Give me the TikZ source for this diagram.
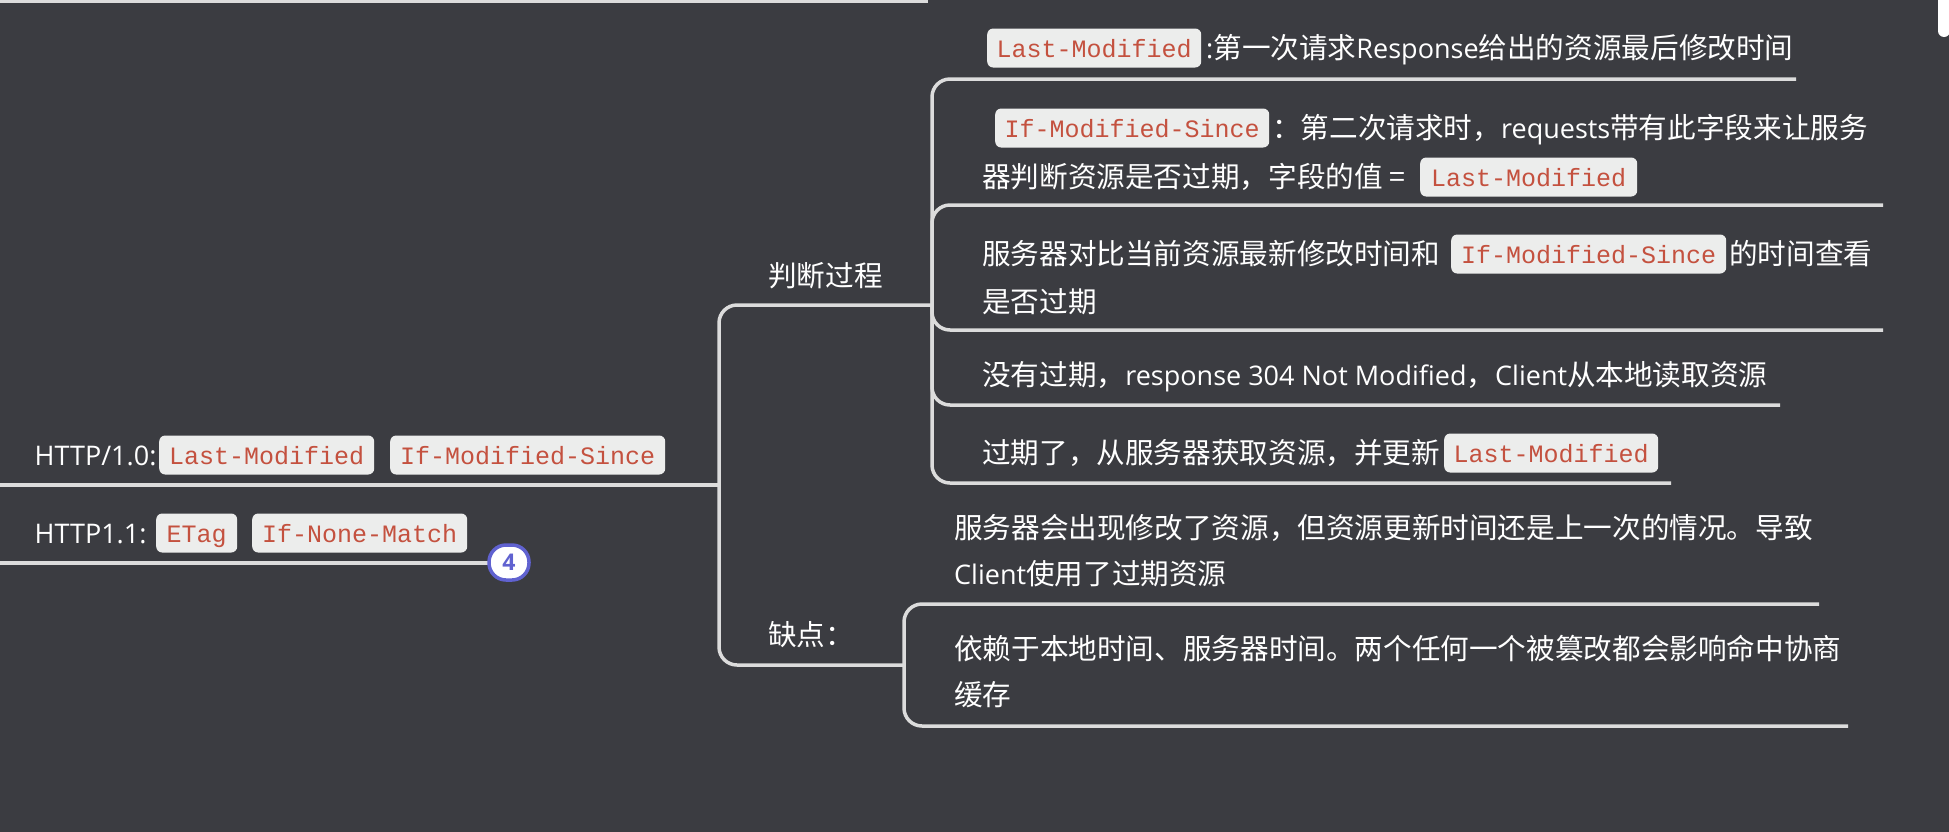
\documentclass[tikz,border=0pt]{standalone}
\usepackage{fontspec}
\setmainfont{Open Sans}
\setmonofont{Liberation Mono}
\newfontfamily\cjk[Scale=1.06]{Noto Sans CJK SC}
\newcommand{\zh}[1]{{\cjk #1}}
\usetikzlibrary{positioning}
\definecolor{bgcol}{HTML}{3B3C41}
\definecolor{linecol}{HTML}{DCDCDC}
\definecolor{codefill}{HTML}{ECEDEC}
\definecolor{codetext}{HTML}{C4513F}
\definecolor{badgecol}{HTML}{6062D0}
\tikzset{
  txt/.style={anchor=west,inner sep=0pt,text=white,text height=26pt,text depth=6pt,font=\fontsize{27}{30}\selectfont},
  code/.style={anchor=west,fill=codefill,text=codetext,rounded corners=6pt,inner sep=0pt,
    text height=25pt,text depth=6.4pt,minimum height=39pt,font=\fontsize{25}{30}\ttfamily},
  branch/.style={linecol,line width=3.5pt,rounded corners=18pt}
}
\begin{document}
\begin{tikzpicture}[x=1pt,y=-1pt]
\useasboundingbox (0,0) rectangle (1949,831);
\fill[bgcol] (-1,-1) rectangle (1950,832);
\fill[white] [rounded corners=6pt] (1938,-1) -- (1938,37) -- (1950,37) [sharp corners] -- (1950,-1) -- cycle;
% left column
\node[txt] (http10) at (34.5,455) {HTTP/1.0:};
\node[code,minimum width=215pt] (lm0) at (159,455) {Last-Modified};
\node[code,minimum width=275pt] (ims0) at (390,455) {If-Modified-Since};
\node[txt] (http11) at (34.5,533) {HTTP1.1:};
\node[code,minimum width=81pt] (etag) at (156,533) {ETag};
\node[code,minimum width=215pt] (inm) at (252,533) {If-None-Match};
% middle
\node[txt] (judge) at (768,276) {\zh{判断过程}};
\node[txt] (defect) at (768,635) {\zh{缺点：}};
% first group
\node[code,minimum width=214pt] (lm1) at (987,48) {Last-Modified};
\node[txt] (t1) at (1206,48) {:\zh{第一次请求}Response\zh{给出的资源最后修改时间}};
\node[code,minimum width=274pt] (ims1) at (995,128) {If-Modified-Since};
\node[txt] (t2a) at (1272,128) {\zh{：第二次请求时，}requests\zh{带有此字段来让服务}};
\node[txt] (t2b) at (982,177) {\zh{器判断资源是否过期，字段的值 =}};
\node[code,minimum width=217pt] (lm2) at (1420,177) {Last-Modified};
\node[txt] (t3a) at (982,254) {\zh{服务器对比当前资源最新修改时间和}};
\node[code,minimum width=275pt] (ims2) at (1451,254) {If-Modified-Since};
\node[txt] (t3b) at (1729,254) {\zh{的时间查看}};
\node[txt] (t3c) at (982,302) {\zh{是否过期}};
\node[txt] (t4) at (982,375) {\zh{没有过期，}response 304 Not Modified\zh{，}Client\zh{从本地读取资源}};
\node[txt] (t5) at (982,453) {\zh{过期了，从服务器获取资源，并更新}};
\node[code,minimum width=214pt] (lm3) at (1444,453) {Last-Modified};
% second group
\node[txt] (t6a) at (954,528) {\zh{服务器会出现修改了资源，但资源更新时间还是上一次的情况。导致}};
\node[txt] (t6b) at (954,574) {Client\zh{使用了过期资源}};
\node[txt] (t7a) at (954,649) {\zh{依赖于本地时间、服务器时间。两个任何一个被篡改都会影响命中协商}};
\node[txt] (t7b) at (954,695) {\zh{缓存}};
% line ends
\coordinate (leftA) at (0,485);
\coordinate (leftB) at (0,563);
\coordinate (root) at (719,485);
\coordinate (hubA) at (932,305);
\coordinate (hubB) at (904,665);
\coordinate (endA) at (1796,79);
\coordinate (endB) at (1883,205);
\coordinate (endC) at (1883,330);
\coordinate (endD) at (1780,405);
\coordinate (endE) at (1671,483);
\coordinate (endF) at (1819,604);
\coordinate (endG) at (1848,726);
\coordinate (topA) at (0,1);
\coordinate (topB) at (928,1);
\coordinate (badgeEnd) at (489,563);
% connectors
\draw[branch] (topA) -- (topB);
\draw[branch] (leftA) -- (root);
\draw[branch] (leftB) -- (badgeEnd);
\draw[branch] (root) -- (root |- hubA) -- (hubA);
\draw[branch] (root) -- (root |- hubB) -- (hubB);
\draw[branch] (hubA) -- (hubA |- endA) -- (endA);
\draw[branch] (hubA) -- (hubA |- endB) -- (endB);
\draw[branch] (hubA) -- (hubA |- endC) -- (endC);
\draw[branch] (hubA) -- (hubA |- endD) -- (endD);
\draw[branch] (hubA) -- (hubA |- endE) -- (endE);
\draw[branch] (hubB) -- (hubB |- endF) -- (endF);
\draw[branch] (hubB) -- (hubB |- endG) -- (endG);
\node[draw=badgecol,fill=white,line width=3.5pt,rounded corners=17pt,minimum width=40pt,minimum height=35pt,inner sep=0pt,text=badgecol,font=\fontsize{23}{23}\bfseries] (badge) at (509,562.5) {4};
\end{tikzpicture}
\end{document}
